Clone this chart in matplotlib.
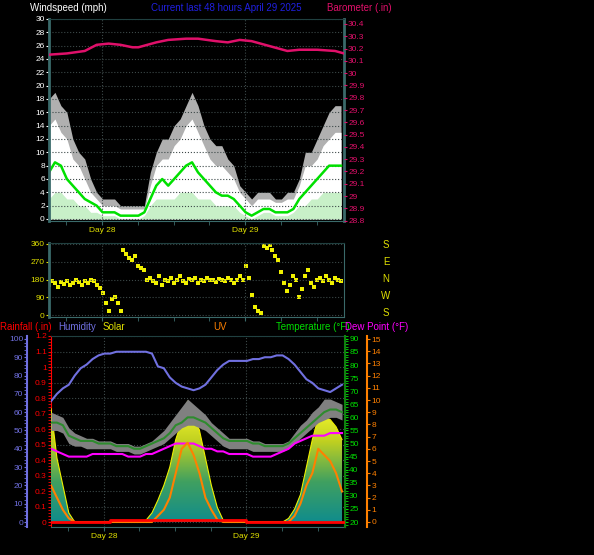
import numpy as np
import matplotlib
matplotlib.use("Agg")
import matplotlib.pyplot as plt
from matplotlib.ticker import MultipleLocator
from matplotlib.colors import LinearSegmentedColormap

# ── Data (hours from start of window; Day 28 midnight at 8.9 h) ─────────────
hours = np.arange(50)
day_ticks = [8.9, 32.9]
day_labels = ["Day 28", "Day 29"]

gust = [18, 19, 17, 16, 12, 10, 9, 6, 4, 3, 3, 3, 2, 2, 2, 2, 2, 7, 10, 12,
        12, 14, 15, 17, 19, 17, 14, 12, 11, 11, 9, 8, 5, 4, 3, 4, 4, 4, 3, 3,
        4, 4, 6, 10, 10, 12, 14, 16, 17, 17]
wind_hi = [14, 15, 13, 12, 9, 8, 6, 4, 3, 2, 2, 2, 1.5, 1.5, 1.5, 1.5, 1.5, 5, 8, 9,
           9, 11, 12, 14, 15, 13, 11, 9, 8, 8, 7, 6, 4, 3, 2, 3, 3, 3, 2.5, 2.5,
           3, 3, 5, 8, 8, 9, 11, 12, 13, 13]
wind_avg = [7, 8.5, 8, 6, 5, 4, 3, 2.5, 2, 1, 1, 1, 0.5, 0.5, 0.5, 0.5, 1, 3, 5, 6,
            5, 6, 7, 8, 8.5, 7, 6, 5, 4, 3.5, 3.5, 3, 2, 1, 0.5, 1, 1.5, 1.5, 1, 1,
            1, 1.5, 3, 4, 5, 6, 7, 8, 8, 8]
wind_lo = [3, 4, 4, 3, 3, 2, 2, 1, 1, 0.5, 0.5, 0.5, 0, 0, 0, 0, 0.5, 2, 3, 3,
           3, 3, 4, 4, 4, 3, 3, 3, 2, 2, 2, 2, 1, 0.5, 0, 0.5, 1, 1, 0.5, 0.5,
           0.5, 1, 2, 2, 3, 3, 4, 4, 4, 4]

baro_t = [0, 3, 6, 8, 10, 12, 14, 15, 18, 20, 23, 25, 28, 30, 32, 34, 37, 40, 42, 45, 48, 49.5]
baro = [30.15, 30.16, 30.18, 30.23, 30.24, 30.23, 30.21, 30.21, 30.25, 30.27, 30.28,
        30.28, 30.26, 30.25, 30.27, 30.26, 30.22, 30.18, 30.19, 30.19, 30.18, 30.16]

dir_t = np.arange(0, 49.5, 0.5)
wind_dir = [150, 170, 160, 140, 165, 155, 170, 150, 160, 175, 165, 150, 170, 160, 180, 170,
            150, 135, 110, 60, 20, 80, 90, 60, 20, 330, 310, 290, 280, 300, 250, 240,
            230, 180, 190, 170, 160, 200, 150, 180, 170, 190, 160, 180, 200, 170, 160, 185,
            175, 190, 160, 180, 170, 190, 180, 175, 165, 185, 180, 170, 190, 175, 160, 180,
            200, 180, 250, 190, 100, 40, 20, 10, 350, 340, 355, 330, 300, 280, 220, 160,
            120, 150, 200, 180, 90, 130, 200, 230, 160, 140, 180, 190, 170, 200, 180, 160,
            190, 180, 170]

humidity = [66, 70, 73, 75, 80, 84, 86, 89, 91, 92, 92, 93, 93, 93, 93, 93, 93, 92, 85, 84,
            79, 76, 74, 73, 72, 73, 75, 79, 83, 86, 88, 88, 88, 88, 89, 89, 90, 90, 91, 91,
            89, 86, 82, 78, 76, 73, 72, 71, 73, 75]
temp = [58, 58, 57, 53, 52, 51, 51, 51, 50, 50, 50, 49, 49, 49, 48, 48, 49, 50, 51, 52,
        54, 57, 58, 60, 60, 59, 58, 56, 54, 52, 51, 51, 51, 51, 50, 50, 49, 49, 49, 49,
        50, 52, 54, 56, 58, 60, 62, 63, 63, 62]
heat_hi = [62, 61, 60, 56, 54, 53, 52, 52, 51, 51, 51, 50, 50, 50, 49, 49, 50, 51, 53, 55,
           58, 61, 64, 67, 65, 63, 61, 58, 56, 54, 52, 52, 52, 52, 51, 51, 50, 50, 50, 50,
           51, 54, 57, 59, 62, 64, 67, 67, 66, 65]
heat_lo = [55, 55, 54, 50, 49, 49, 48, 48, 48, 48, 48, 47, 47, 47, 46, 46, 47, 48, 49, 50,
           52, 54, 56, 57, 57, 56, 55, 53, 51, 49, 48, 48, 48, 48, 47, 47, 47, 47, 47, 47,
           48, 50, 52, 54, 56, 58, 59, 60, 60, 59]
dew = [48, 47, 46, 45, 45, 45, 45, 46, 46, 46, 46, 46, 46, 45, 45, 45, 46, 46, 47, 48,
       49, 50, 50, 50, 50, 49, 48, 48, 47, 47, 46, 46, 46, 46, 45, 45, 45, 45, 46, 47,
       48, 50, 51, 52, 53, 53, 53, 54, 54, 54]
solar = [62, 35, 20, 5, 0, 0, 0, 0, 0, 0, 0, 0, 0, 0, 0, 0, 1, 5, 12, 20,
         30, 45, 55, 66, 58, 50, 35, 20, 8, 1, 0, 0, 0, 0, 0, 0, 0, 0, 0, 0,
         2, 7, 15, 30, 45, 57, 57, 56, 52, 45]
uv = [3, 2, 1, 0.3, 0, 0, 0, 0, 0, 0, 0, 0, 0, 0, 0, 0, 0, 0, 0.5, 1,
      2, 4, 6, 6.5, 5.5, 4, 2, 1, 0.2, 0, 0, 0, 0, 0, 0, 0, 0, 0, 0, 0,
      0, 0.5, 1.5, 3, 4, 6, 5.5, 5, 4, 2.5]
rain_t = [0, 10, 10, 32.9, 32.9, 49.5]
rain = [0, 0, 0.01, 0.01, 0, 0]

# ── Style ─────────────────────────────────────────────────────────────────────
plt.rcParams["font.family"] = ["Liberation Sans", "DejaVu Sans"]
W, H = 594, 555
BG = "black"
SPINE = "#3a6a6a"
GRID = "#3c4848"
C_BARO = "#e0106a"
C_HUM = "#7070e0"
C_TEMP = "#00dd00"
C_UV = "#ff8000"

fig = plt.figure(figsize=(W / 100, H / 100), dpi=100, facecolor=BG)


def box(x0, y0, x1, y1):
    return [x0 / W, 1 - y1 / H, (x1 - x0) / W, (y1 - y0) / H]


def style(ax, color):
    ax.set_facecolor("none")
    for s in ax.spines.values():
        s.set_visible(False)
    ax.tick_params(colors=color, labelsize=6, length=2, pad=1)
    ax.set_xlim(0, 49.5)


def xaxis(ax, labels=True):
    ax.set_xticks(day_ticks)
    ax.set_xticks(np.arange(2.9, 49.5, 6), minor=True)
    ax.tick_params(axis="x", which="both", colors=SPINE, labelcolor="#e0e000", length=3)
    ax.set_xticklabels(day_labels if labels else [], fontsize=6, color="#e0e000")
    ax.grid(True, color=GRID, linestyle=":", linewidth=0.8)
    for s in ["left", "bottom", "right", "top"]:
        ax.spines[s].set_visible(True)
        ax.spines[s].set_color(SPINE)
    ax.spines["top"].set_color("#204040")


# ── Top: wind + barometer ────────────────────────────────────────────────────
ax1 = fig.add_axes(box(49, 19, 344, 221))
style(ax1, "white")
xaxis(ax1)
ax1.spines["left"].set_linewidth(2)
ax1.spines["right"].set_linewidth(2)
ax1.set_ylim(-0.3, 30)
ax1.set_yticks(range(0, 31, 2))
ax1.fill_between(hours, 0, gust, color="#b0b0b0", lw=0)
ax1.fill_between(hours, 0, wind_hi, color="white", lw=0)
ax1.fill_between(hours, 0, wind_lo, color="#c8f0c8", lw=0)
ax1.plot(hours, wind_avg, color="#00e000", lw=1.8)

ax1b = ax1.twinx()
style(ax1b, C_BARO)
ax1b.set_ylim(28.8 - 0.0025, 30.44)
bt = np.round(np.arange(28.8, 30.41, 0.1), 1)
ax1b.set_yticks(bt)
ax1b.set_yticklabels([f"{v:g}" for v in bt])
ax1b.plot(baro_t, baro, color=C_BARO, lw=1.8)

fig.text(30 / W, 1 - 8 / H, "Windspeed (mph)", color="white", fontsize=7, va="center")
fig.text(151 / W, 1 - 8 / H, "Current last 48 hours April 29 2025", color="#2020e0",
         fontsize=7, va="center")
fig.text(327 / W, 1 - 8 / H, "Barometer (.in)", color=C_BARO, fontsize=7, va="center")

# ── Middle: wind direction ───────────────────────────────────────────────────
ax2 = fig.add_axes(box(49, 243, 344, 317))
style(ax2, "#e0e000")
xaxis(ax2, labels=False)
ax2.spines["left"].set_linewidth(2)
ax2.set_ylim(-10, 365)
ax2.set_yticks([0, 90, 180, 270, 360])
ax2.scatter(dir_t, wind_dir, s=6, color="#f0f000", marker="s", lw=0)
for y, lab in zip([245, 262, 279, 296, 313], ["S", "E", "N", "W", "S"]):
    fig.text(386 / W, 1 - y / H, lab, color="#e0e000", fontsize=7, ha="center", va="center")

# ── Bottom: rain / humidity / solar / UV / temp / dew ────────────────────────
ax3 = fig.add_axes(box(51, 336, 345, 527))
style(ax3, "red")
xaxis(ax3)
ax3.spines["left"].set_color("red")
ax3.set_ylim(-0.032, 1.2)
rt = np.round(np.arange(0, 1.21, 0.1), 1)
ax3.set_yticks(rt)
ax3.set_yticklabels([f"{v:g}" for v in rt])
ax3.yaxis.set_minor_locator(MultipleLocator(0.02))
ax3.tick_params(axis="y", which="both", colors="red", labelcolor="red")

axh = ax3.twinx()
style(axh, C_HUM)
axh.yaxis.tick_left()
axh.spines["left"].set_visible(True)
axh.spines["left"].set_position(("outward", 17))
axh.spines["left"].set_color(C_HUM)
axh.spines["left"].set_linewidth(1.5)
axh.set_ylim(-2.7, 101.6)
axh.set_yticks(range(0, 101, 10))
axh.yaxis.set_minor_locator(MultipleLocator(2))
axh.tick_params(axis="y", which="both", colors=C_HUM, labelcolor=C_HUM)

# solar gradient fill
poly = axh.fill_between(hours, 0, solar, color="none", lw=0)
grad = np.linspace(0, 1, 256).reshape(-1, 1)
cmap = LinearSegmentedColormap.from_list("sol", ["#108c8c", "#40a060", "#c0d020", "#ffff30"])
img = axh.imshow(grad, extent=[0, 49.5, 0, 66], origin="lower", aspect="auto", cmap=cmap)
img.set_clip_path(poly.get_paths()[0], transform=axh.transData)
axh.plot(hours, solar, color="#f0f000", lw=0.8)
axh.plot(hours, humidity, color=C_HUM, lw=1.5)
axh.set_xlim(0, 49.5)

axt = ax3.twinx()
style(axt, C_TEMP)
axt.spines["right"].set_visible(True)
axt.spines["right"].set_color("#108010")
axt.spines["right"].set_linewidth(1.5)
axt.set_ylim(18.1, 91.1)
axt.set_yticks(range(20, 91, 5))
axt.yaxis.set_minor_locator(MultipleLocator(1))
axt.tick_params(axis="y", which="both", colors=C_TEMP, labelcolor=C_TEMP)
axt.fill_between(hours, heat_lo, heat_hi, color="#808080", lw=0)
axt.plot(hours, temp, color="#2e8b2e", lw=1.5)
axt.plot(hours, dew, color="#ff00ff", lw=1.5)

axu = ax3.twinx()
style(axu, C_UV)
axu.spines["right"].set_visible(True)
axu.spines["right"].set_position(("outward", 16))
axu.spines["right"].set_color(C_UV)
axu.spines["right"].set_linewidth(1.5)
axu.set_ylim(-0.41, 15.25)
axu.set_yticks(range(0, 16))
axu.tick_params(axis="y", colors=C_UV, labelcolor=C_UV)
axu.plot(hours, uv, color=C_UV, lw=1.5)
axu.plot(rain_t, np.array(rain) * 15.66 / 1.232, color="red", lw=2)

for x, lab, c in [(0, "Rainfall (.in)", "red"), (58, "Humidity", C_HUM),
                  (103, "Solar", "#e0e000"), (213, "UV", C_UV),
                  (276, "Temperature (°F)", C_TEMP), (345, "Dew Point (°F)", "#ff00ff")]:
    fig.text(x / W, 1 - 327 / H, lab, color=c, fontsize=7, va="center")

fig.savefig("out.png", dpi=100, facecolor=BG)
